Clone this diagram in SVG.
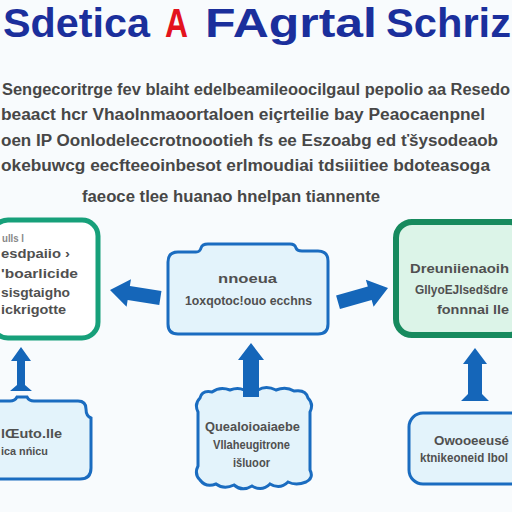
<svg xmlns="http://www.w3.org/2000/svg" width="512" height="512" viewBox="0 0 512 512">
<style>
.t{font-family:"Liberation Sans",Arial,sans-serif;font-weight:bold;font-size:40px;fill:#1b2f9c}
.p{font-family:"Liberation Sans",Arial,sans-serif;font-weight:bold;font-size:16px;fill:#474747}
.b{font-family:"Liberation Sans",Arial,sans-serif;font-weight:bold;font-size:13px;fill:#505050}
.blue{fill:#e3f3fb;stroke:#1a6cc0;stroke-width:3}
.arr{fill:#1566b9}
</style>
<rect width="512" height="512" fill="#f8fbfd"/>
<g id="title">
<text class="t" x="3" y="37" textLength="147" lengthAdjust="spacingAndGlyphs">Sdetica</text>
<text class="t" x="165" y="37" style="fill:#e3131d" textLength="23" lengthAdjust="spacingAndGlyphs">A</text>
<text class="t" x="205" y="37" textLength="172" lengthAdjust="spacingAndGlyphs">FAgrtal</text>
<text class="t" x="386" y="37" textLength="125" lengthAdjust="spacingAndGlyphs">Schriz</text>
</g>
<g id="paragraph">
<text class="p" x="2" y="95" textLength="508" lengthAdjust="spacingAndGlyphs">Sengecoritrge fev blaiht edelbeamileoocilgaul pepolio aa Resedo</text>
<text class="p" x="1" y="120" textLength="484" lengthAdjust="spacingAndGlyphs">beaact hcr Vhaolnmaoortaloen eiçrteilie bay Peaocaenpnel</text>
<text class="p" x="1" y="146" textLength="497" lengthAdjust="spacingAndGlyphs">oen IP Oonlodeleccrotnoootieh fs ee Eszoabg ed ťšysodeaob</text>
<text class="p" x="1" y="171" textLength="489" lengthAdjust="spacingAndGlyphs">okebuwcg eecfteeoinbesot erlmoudiai tdsiiitiee bdoteasoga</text>
<text class="p" x="82" y="202" textLength="298" lengthAdjust="spacingAndGlyphs">faeoce tlee huanao hnelpan tiannente</text>
</g>
<g id="connectors">
<polygon class="arr" transform="translate(110,290) rotate(9)" points="0,0 19,-14 19,-7 51,-7 51,7 19,7 19,14"/>
<polygon class="arr" transform="translate(388,288) rotate(-16)" points="0,0 -19,-14 -19,-7 -52,-7 -52,7 -19,7 -19,14"/>
<polygon class="arr" points="21,347 31,361 25,361 25,385 32,391 10,391 17,385 17,361 11,361"/>
<polygon class="arr" points="251,343 264,360 259,360 259,397 243,397 243,360 238,360"/>
<polygon class="arr" points="475,348 487,364 482,364 482,394 489,401 461,401 468,394 468,364 463,364"/>
</g>
<g id="node-top-left">
<rect x="-8" y="220" width="106" height="118" rx="16" fill="#ffffff" stroke="#17a07a" stroke-width="5"/>
<text class="b" x="2" y="242" style="font-size:10px;fill:#888" textLength="22" lengthAdjust="spacingAndGlyphs">ulls l</text>
<text class="b" x="1" y="258" textLength="69" lengthAdjust="spacingAndGlyphs">esdpaiio ›</text>
<text class="b" x="1" y="278" textLength="77" lengthAdjust="spacingAndGlyphs">'boarlicide</text>
<text class="b" x="1" y="297" textLength="69" lengthAdjust="spacingAndGlyphs">sisgtaigho</text>
<text class="b" x="1" y="314" textLength="65" lengthAdjust="spacingAndGlyphs">ickrigotte</text>
</g>
<g id="node-top-center">
<path class="blue" d="M168,262 Q168,252 178,252 L196,252 Q200,252 201,248 Q202,244 208,244 L290,244 Q295,244 296,248 Q297,251 302,251 L318,251 Q328,251 328,261 L328,324 Q328,334 318,334 L178,334 Q168,334 168,324 Z"/>
<text class="b" x="218" y="283" textLength="59" lengthAdjust="spacingAndGlyphs">nnoeua</text>
<text class="b" x="185" y="305" textLength="127" lengthAdjust="spacingAndGlyphs">1oxqotoc!ouo ecchns</text>
</g>
<g id="node-top-right">
<rect x="396" y="222" width="130" height="113" rx="16" fill="#dcf4e8" stroke="#178a5e" stroke-width="6"/>
<text class="b" x="410" y="273" textLength="99" lengthAdjust="spacingAndGlyphs">Dreuniienaoih</text>
<text class="b" x="415" y="294" textLength="93" lengthAdjust="spacingAndGlyphs">GllyoEJlsedšdre</text>
<text class="b" x="437" y="314" textLength="72" lengthAdjust="spacingAndGlyphs">fonnnai lle</text>
</g>
<g id="node-bottom-left">
<path class="blue" d="M-10,401 L10,401 Q15,401 17,397 L27,397 Q29,401 34,401 L78,401 Q86,401 86,409 Q86,416 91,418 L91,468 Q91,479 80,479 L-10,479 Z"/>
<text class="b" x="1" y="438" textLength="61" lengthAdjust="spacingAndGlyphs">lŒuto.lle</text>
<text class="b" x="1" y="455" style="font-size:11px" textLength="47" lengthAdjust="spacingAndGlyphs">ica nńicu</text>
</g>
<g id="node-bottom-center">
<path class="blue" d="M200,398 Q202,390 212,392 Q220,386 230,390 Q238,387 244,390 L258,390 Q266,385 276,390 Q286,386 294,391 Q306,389 308,398 Q314,404 310,412 L310,470 Q314,478 306,482 Q296,486 288,482 Q280,490 270,484 Q262,492 252,486 Q242,492 234,485 Q224,490 216,484 Q206,488 200,480 Q194,474 198,466 L198,412 Q194,404 200,398 Z"/>
<polygon class="arr" points="243,388 259,388 259,397 243,397"/>
<text class="b" x="205" y="431" textLength="95" lengthAdjust="spacingAndGlyphs">Quealoioaiaebe</text>
<text class="b" x="213" y="449" textLength="77" lengthAdjust="spacingAndGlyphs">Vllaheugitrone</text>
<text class="b" x="233" y="467" textLength="37" lengthAdjust="spacingAndGlyphs">išluoor</text>
</g>
<g id="node-bottom-right">
<rect class="blue" x="409" y="413" width="120" height="71" rx="14"/>
<text class="b" x="434" y="445" textLength="75" lengthAdjust="spacingAndGlyphs">Owooeeusé</text>
<text class="b" x="420" y="462" textLength="88" lengthAdjust="spacingAndGlyphs">ktnikeoneid Ibol</text>
</g>
</svg>
